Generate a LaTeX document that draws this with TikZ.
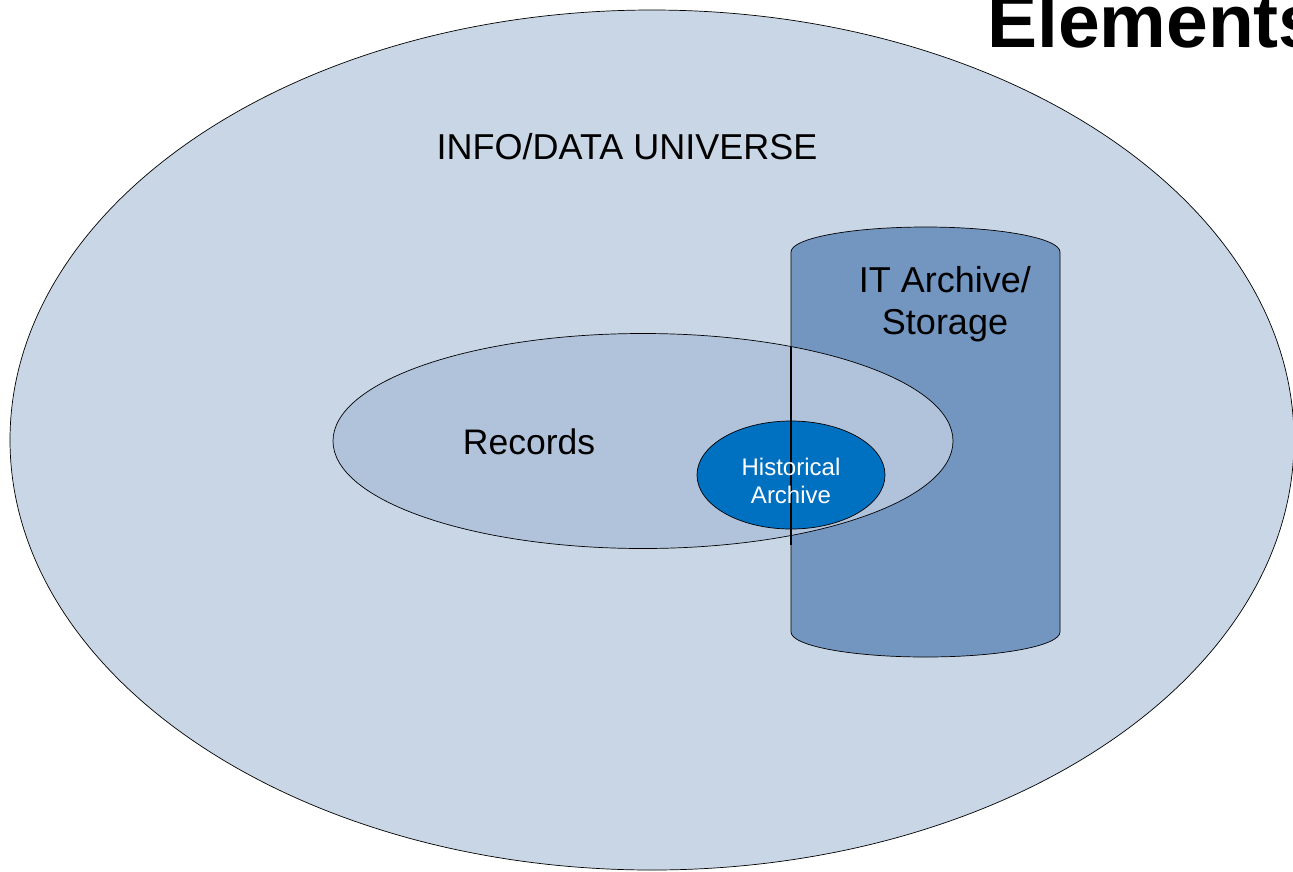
\documentclass[tikz,border=0pt]{standalone}
\usepackage{fontspec}
\setmainfont{Liberation Sans}
\usetikzlibrary{shapes.geometric}
\definecolor{universefill}{RGB}{201,214,229}
\definecolor{recordsfill}{RGB}{176,195,219}
\definecolor{storagefill}{RGB}{115,150,192}
\definecolor{histfill}{RGB}{0,112,192}
\tikzset{
  blob/.style={ellipse, draw=black, line width=0.7pt, inner sep=0pt},
  lbl/.style={inner sep=0pt, text=black, align=center},
}
\begin{document}
\begin{tikzpicture}[x=1pt,y=-1pt]
\useasboundingbox (0,0) rectangle (1293,871);
\clip (0,0) rectangle (1293,871);
% universe
\node[blob, fill=universefill, minimum width=1284pt, minimum height=860pt] (universe) at (652,440) {};
% IT archive / storage cylinder
\filldraw[fill=storagefill, draw=black, line width=0.7pt]
  (791,632) -- (791,252) arc[start angle=180, end angle=360, x radius=134.5, y radius=25]
  -- (1060,632) arc[start angle=0, end angle=180, x radius=134.5, y radius=25] -- cycle;
\coordinate (storetop) at (791,347);
\coordinate (storebot) at (791,545);
% records
\node[blob, fill=recordsfill, minimum width=620pt, minimum height=215pt] (records) at (643,441) {};
% historical archive
\node[blob, fill=histfill, minimum width=188pt, minimum height=108pt] (hist) at (791,475) {};
% cylinder edge over records
\draw[line width=1.6pt] (storetop) -- (storebot);
% labels
\node[lbl, anchor=base, font=\fontsize{36}{42}\selectfont] (universelabel) at (627,159) {INFO/DATA UNIVERSE};
\node[lbl, anchor=base, font=\fontsize{35.5}{40}\selectfont] (recordslabel) at (529,454) {Records};
\node[lbl, font=\fontsize{36}{42}\selectfont] (storagelabel) at (945,304) {IT Archive/\\Storage};
\node[lbl, text=white, font=\fontsize{24}{28}\selectfont] (histlabel) at (791,480.5) {Historical\\Archive};
\node[lbl, anchor=base west, font=\fontsize{75}{80}\selectfont\bfseries] (title) at (987,47) {Elements};
\end{tikzpicture}
\end{document}
